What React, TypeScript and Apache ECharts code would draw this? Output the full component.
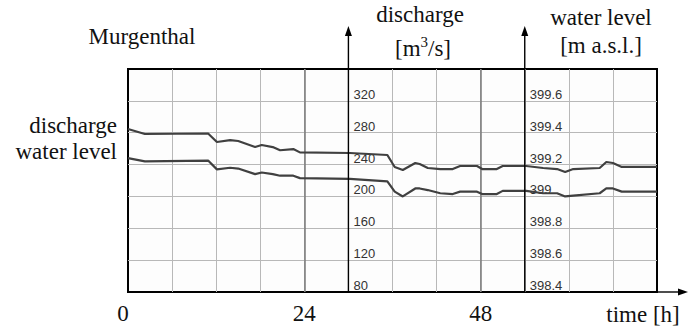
import React, { useEffect, useRef } from "react";
import * as echarts from "echarts";

// time samples [h]
const hours = [
  0, 2.3, 10.9, 12.1, 13.9, 15.0, 17.3, 18.2, 19.7, 20.7, 22.5, 23.4, 30.2, 35.3, 36.3, 37.4,
  39.1, 39.7, 40.8, 42.5, 44.2, 45.2, 47.5, 48.2, 50.2, 51.0, 54.2, 56.5, 58.4, 59.5, 60.6,
  64.2, 65.1, 66.0, 67.2, 72,
];
// discharge [m3/s]
const discharge = [
  284.7, 278.4, 279, 268.3, 270.8, 269.6, 262, 264.6, 262, 258, 259.5, 255.3, 254.5, 252, 237,
  233.2, 242, 240.7, 235.7, 234.4, 234.4, 238.2, 238.2, 234.4, 234.4, 238.2, 238.2, 235.7,
  234.4, 230.7, 234.4, 235.7, 243.2, 242, 237, 237,
];
// water level [m a.s.l.]
const waterLevel = [
  399.24, 399.22, 399.225, 399.17, 399.18, 399.175, 399.14, 399.15, 399.14, 399.13, 399.13,
  399.115, 399.11, 399.095, 399.03, 399.0, 399.05, 399.05, 399.04, 399.02, 399.015, 399.03,
  399.03, 399.015, 399.015, 399.035, 399.035, 399.02, 399.02, 399.0, 399.005, 399.02, 399.05,
  399.05, 399.03, 399.03,
];
const labeledHours = [0, 24, 48];
const majorHours = [24, 48];
const dischargeAxisHour = 30;
const levelAxisHour = 54;

const SERIF = "'Liberation Serif', 'Times New Roman', serif";
const SANS = "'Liberation Sans', Arial, sans-serif";

export default function App() {
  const ref = useRef<HTMLDivElement>(null);
  useEffect(() => {
    document.body.style.margin = "0";
    const chart = echarts.init(ref.current!, null, { renderer: "svg" });
    const gridLeft = 128;
    const yLabel = {
      inside: true,
      margin: 5,
      verticalAlign: "bottom",
      fontSize: 13,
      fontFamily: SANS,
      color: "#333",
      showMaxLabel: false,
      showMinLabel: true,
    };
    const gridLine = { color: "#b8b8b8", width: 1 };
    chart.setOption({
      animation: false,
      grid: {
        left: gridLeft,
        right: 41,
        top: 69,
        bottom: 39,
        show: true,
        borderColor: "#000",
        borderWidth: 2,
        backgroundColor: "#fdfdfd",
      },
      xAxis: {
        type: "value",
        min: 0,
        max: 72,
        interval: 6,
        axisLine: { show: false, onZero: false },
        axisTick: { show: false },
        splitLine: { show: true, showMinLine: false, showMaxLine: false, lineStyle: gridLine },
        axisLabel: {
          margin: 10,
          fontSize: 23,
          fontFamily: SERIF,
          color: "#111",
          formatter: (v: number) =>
            labeledHours.includes(v) ? (v === 0 ? "{z|0}" : String(v)) : "",
          rich: { z: { fontSize: 23, fontFamily: SERIF, color: "#111", padding: [0, 10, 0, 0] } },
        },
      },
      yAxis: [
        {
          type: "value",
          position: "left",
          min: 80,
          max: 360,
          interval: 40,
          axisLine: { show: false, onZero: false },
          axisTick: { show: false },
          splitLine: { show: true, showMinLine: false, showMaxLine: false, lineStyle: gridLine },
          axisLabel: yLabel,
        },
        {
          type: "value",
          position: "left",
          min: 398.4,
          max: 399.8,
          interval: 0.2,
          axisLine: { show: false, onZero: false },
          axisTick: { show: false },
          splitLine: { show: false },
          axisLabel: yLabel,
        },
      ],
      series: [
        {
          type: "line",
          yAxisIndex: 0,
          data: hours.map((h, i) => [h, discharge[i]]),
          showSymbol: false,
          lineStyle: { color: "#404040", width: 2.2 },
          z: 3,
          markLine: {
            silent: true,
            symbol: ["none", "none"],
            label: { show: false },
            lineStyle: { color: "#7a7a7a", width: 1.5, type: "solid" },
            data: majorHours.map((h) => ({ xAxis: h })),
            z: 1,
          },
        },
        {
          type: "line",
          yAxisIndex: 1,
          data: hours.map((h, i) => [h, waterLevel[i]]),
          showSymbol: false,
          lineStyle: { color: "#404040", width: 2.2 },
          z: 3,
        },
      ],
    });

    const dX = chart.convertToPixel({ xAxisIndex: 0 }, dischargeAxisHour) as number;
    const lX = chart.convertToPixel({ xAxisIndex: 0 }, levelAxisHour) as number;
    const xEnd = chart.convertToPixel({ xAxisIndex: 0 }, 72) as number;
    const yB = chart.convertToPixel({ yAxisIndex: 0 }, 80) as number;
    const arrowTop = 26;
    const stroke = { stroke: "#000", lineWidth: 1.4 };
    const upArrow = (x: number) => [
      { type: "line", shape: { x1: x, y1: yB, x2: x, y2: arrowTop + 6 }, style: stroke, z: 10 },
      {
        type: "polygon",
        shape: { points: [[x - 3.5, arrowTop + 10], [x, arrowTop], [x + 3.5, arrowTop + 10]] },
        style: { fill: "#000" },
        z: 10,
      },
    ];
    const txt = (text: string, x: number, y: number, align: string, extra: any = {}) => ({
      type: "text",
      x,
      y,
      z: 10,
      style: {
        text,
        fontSize: 23,
        fontFamily: SERIF,
        fill: "#111",
        align,
        verticalAlign: "middle",
        ...extra,
      },
    });

    chart.setOption({
      yAxis: [{ offset: -(dX - gridLeft) }, { offset: -(lX - gridLeft) }],
      graphic: [
        ...upArrow(dX),
        ...upArrow(lX),
        { type: "line", shape: { x1: xEnd, y1: yB, x2: xEnd + 24, y2: yB }, style: stroke, z: 10 },
        {
          type: "polygon",
          shape: { points: [[xEnd + 21, yB - 3.5], [xEnd + 31, yB], [xEnd + 21, yB + 3.5]] },
          style: { fill: "#000" },
          z: 10,
        },
        txt("Murgenthal", 142, 36, "center"),
        txt("discharge", 420, 14, "center"),
        txt("[m{s|3}/s]", 423, 48, "center", {
          rich: {
            s: { fontSize: 15, fontFamily: SERIF, verticalAlign: "top", lineHeight: 15 },
          },
          lineHeight: 28,
        }),
        txt("water level", 601, 17, "center"),
        txt("[m a.s.l.]", 601, 45, "center"),
        txt("discharge", 117, 125, "right"),
        txt("water level", 117, 151, "right"),
        txt("time [h]", 643, 314, "center"),
      ],
    });

    return () => chart.dispose();
  }, []);
  return <div ref={ref} style={{ width: 698, height: 331 }} />;
}
